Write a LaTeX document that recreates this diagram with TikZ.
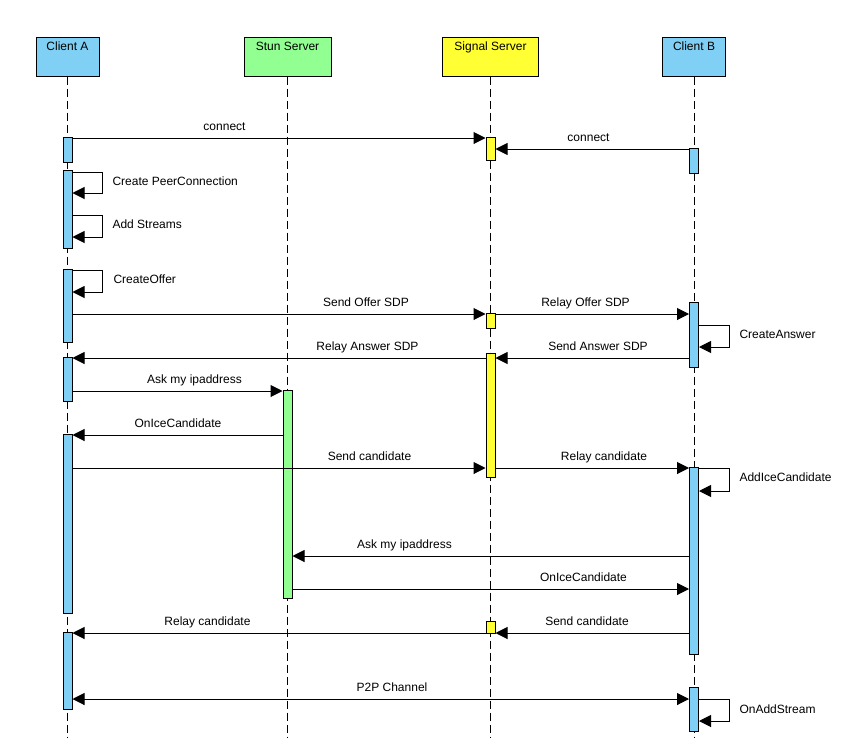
\documentclass[tikz,border=0pt]{standalone}
\usepackage{fontspec}
\setmainfont{Liberation Sans}
\usetikzlibrary{arrows.meta}

\definecolor{clientblue}{RGB}{128,208,245}
\definecolor{stungreen}{RGB}{146,255,146}
\definecolor{signalyellow}{RGB}{255,255,51}

\begin{document}
\begin{tikzpicture}[x=1pt, y=-1pt, line width=1pt,
  font=\fontsize{12}{14}\selectfont,
  head/.style={draw, rectangle, inner xsep=0pt, inner ysep=4pt, text height=9pt, text depth=21pt, minimum width=#1},
  life/.style={dash pattern=on 8pt off 4pt},
  act/.style={draw, rectangle, inner sep=0pt, minimum width=9pt, minimum height=#1},
  msg/.style={-{Triangle[length=12pt, width=12pt]}},
  both/.style={{Triangle[length=12pt, width=12pt]}-{Triangle[length=12pt, width=12pt]}},
  lbl/.style={anchor=base, inner sep=0pt},
  note/.style={anchor=base west, inner sep=0pt}]
  \useasboundingbox[fill=white] (0,0) rectangle (858,752);

  % participants
  \node[head=63, fill=clientblue] (ca) at (67.5,57) {Client A};
  \node[head=87, fill=stungreen] (stun) at (287.5,57) {Stun Server};
  \node[head=96, fill=signalyellow] (sig) at (490.5,57) {Signal Server};
  \node[head=63, fill=clientblue] (cb) at (694,57) {Client B};

  % lifelines
  \coordinate (caend) at (67.5,738);
  \coordinate (stunend) at (287.5,738);
  \coordinate (sigend) at (490.5,738);
  \coordinate (cbend) at (694,738);
  \draw[life] (ca.south) -- (caend);
  \draw[life] (stun.south) -- (stunend);
  \draw[life] (sig.south) -- (sigend);
  \draw[life] (cb.south) -- (cbend);

  % activations
  \node[act=25, fill=clientblue] (a1) at (67.5,149.5) {};
  \node[act=78, fill=clientblue] (a2) at (67.5,209) {};
  \node[act=73, fill=clientblue] (a3) at (67.5,305.5) {};
  \node[act=44, fill=clientblue] (a4) at (67.5,379) {};
  \node[act=179, fill=clientblue] (a5) at (67.5,523.5) {};
  \node[act=77, fill=clientblue] (a6) at (67.5,670.5) {};
  \node[act=208, fill=stungreen] (t1) at (287.5,494) {};
  \node[act=23, fill=signalyellow] (s1) at (490.5,148.5) {};
  \node[act=15, fill=signalyellow] (s2) at (490.5,320.5) {};
  \node[act=124, fill=signalyellow] (s3) at (490.5,415) {};
  \node[act=12, fill=signalyellow] (s4) at (490.5,627) {};
  \node[act=25, fill=clientblue] (b1) at (694,160.5) {};
  \node[act=65, fill=clientblue] (b2) at (694,334.5) {};
  \node[act=187, fill=clientblue] (b3) at (694,560.5) {};
  \node[act=44, fill=clientblue] (b4) at (694,709) {};

  % messages
  \draw[msg] (a1.east |- 0,138) -- (s1.west |- 0,138);
  \node[lbl] (m1) at (224.5,130) {connect};
  \draw[msg] (b1.west |- 0,149) -- (s1.east |- 0,149);
  \node[lbl] (m2) at (588.5,141) {connect};

  \draw[msg] (a2.east |- 0,172) -- ++(30,0) -- ++(0,21) -- (a2.east |- 0,193);
  \node[note] (m3) at (112,185) {Create PeerConnection};
  \draw[msg] (a2.east |- 0,215) -- ++(30,0) -- ++(0,22) -- (a2.east |- 0,237);
  \node[note] (m4) at (112,228) {Add Streams};
  \draw[msg] (a3.east |- 0,270) -- ++(30,0) -- ++(0,22) -- (a3.east |- 0,292);
  \node[note] (m5) at (113,283) {CreateOffer};

  \draw[msg] (a3.east |- 0,314) -- (s2.west |- 0,314);
  \node[lbl] (m6) at (366,306) {Send Offer SDP};
  \draw[msg] (s2.east |- 0,314) -- (b2.west |- 0,314);
  \node[lbl] (m7) at (585.5,306) {Relay Offer SDP};
  \draw[msg] (b2.east |- 0,325) -- ++(30,0) -- ++(0,22) -- (b2.east |- 0,347);
  \node[note] (m8) at (739,338) {CreateAnswer};

  \draw[msg] (s3.west |- 0,358) -- (a4.east |- 0,358);
  \node[lbl] (m9) at (367.5,350) {Relay Answer SDP};
  \draw[msg] (b2.west |- 0,358) -- (s3.east |- 0,358);
  \node[lbl] (m10) at (598,350) {Send Answer SDP};

  \draw[msg] (a4.east |- 0,391) -- (t1.west |- 0,391);
  \node[lbl] (m11) at (194.5,383) {Ask my ipaddress};
  \draw[msg] (t1.west |- 0,435) -- (a5.east |- 0,435);
  \node[lbl] (m12) at (178,427) {OnIceCandidate};

  \draw[msg] (a5.east |- 0,468) -- (s3.west |- 0,468);
  \node[lbl] (m13) at (369.5,460) {Send candidate};
  \draw[msg] (s3.east |- 0,468) -- (b3.west |- 0,468);
  \node[lbl] (m14) at (604,460) {Relay candidate};
  \draw[msg] (b3.east |- 0,468) -- ++(30,0) -- ++(0,23) -- (b3.east |- 0,491);
  \node[note] (m15) at (739,481) {AddIceCandidate};

  \draw[msg] (b3.west |- 0,556) -- (t1.east |- 0,556);
  \node[lbl] (m16) at (404.5,548) {Ask my ipaddress};
  \draw[msg] (t1.east |- 0,589) -- (b3.west |- 0,589);
  \node[lbl] (m17) at (583.5,581) {OnIceCandidate};

  \draw[msg] (s4.west |- 0,633) -- (a6.east |- 0,633);
  \node[lbl] (m18) at (207.5,625) {Relay candidate};
  \draw[msg] (b3.west |- 0,633) -- (s4.east |- 0,633);
  \node[lbl] (m19) at (587,625) {Send candidate};

  \draw[both] (a6.east |- 0,699) -- (b4.west |- 0,699);
  \node[lbl] (m20) at (392,691) {P2P Channel};
  \draw[msg] (b4.east |- 0,699) -- ++(30,0) -- ++(0,22) -- (b4.east |- 0,721);
  \node[note] (m21) at (739,713) {OnAddStream};
\end{tikzpicture}
\end{document}
